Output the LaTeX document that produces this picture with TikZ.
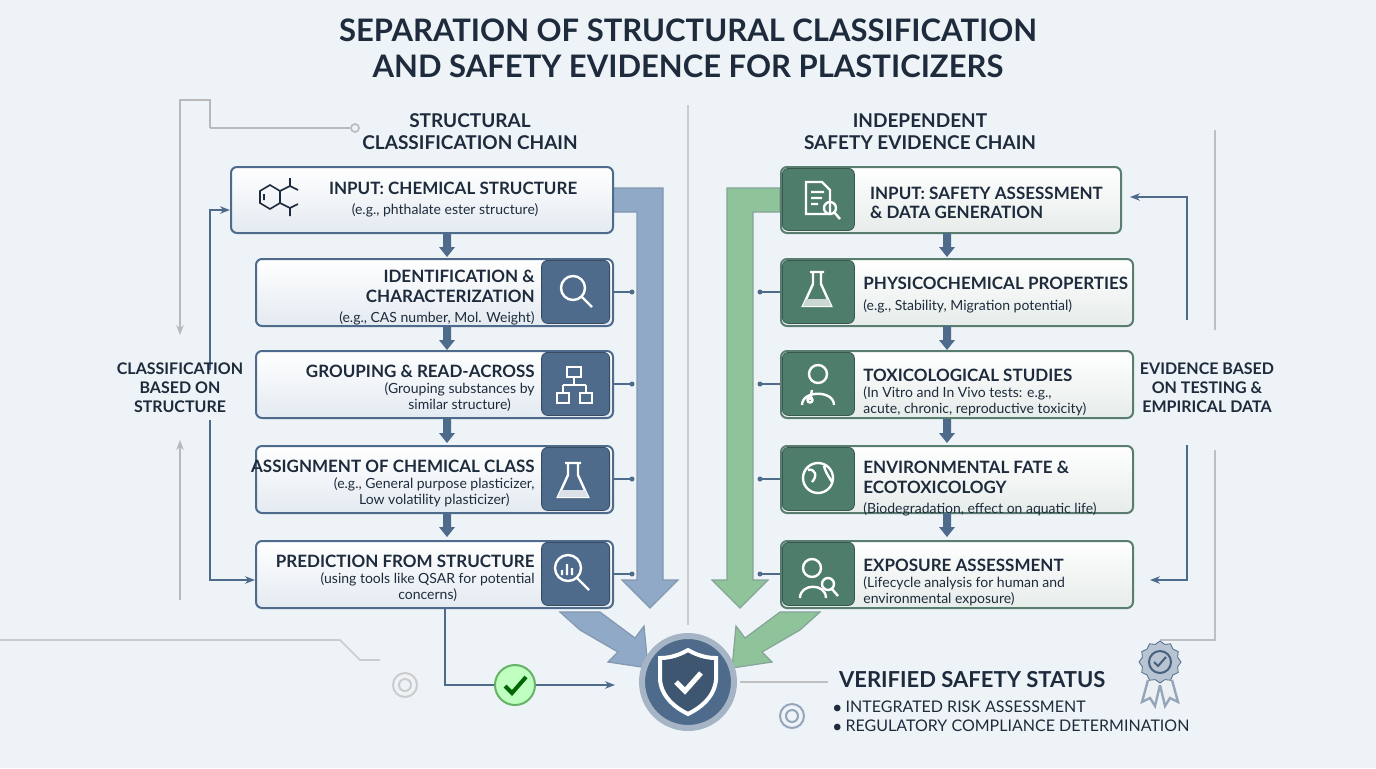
\documentclass[tikz,border=0pt]{standalone}
\usepackage{fontspec}
\setmainfont{Lato}
\usetikzlibrary{arrows.meta,shapes.geometric,calc}
\definecolor{navy}{HTML}{1E2B3C}
\definecolor{steel}{HTML}{4E6B8C}
\definecolor{sage}{HTML}{4F7D6C}
\definecolor{boxbg}{HTML}{E4EAF1}
\definecolor{gboxbg}{HTML}{E6ECEA}
\definecolor{bgc}{HTML}{EEF3F7}
\definecolor{blarrow}{HTML}{8FA9C6}
\definecolor{grarrow}{HTML}{8FC49A}
\begin{document}
\begin{tikzpicture}[x=0.5pt,y=-0.5pt,
 lbox/.style={draw=steel,line width=1pt,rounded corners=3pt,top color=white,bottom color=boxbg},
 rbox/.style={draw=sage!80!gray,line width=1pt,rounded corners=3pt,top color=white,bottom color=gboxbg},
 licon/.style={fill=steel,draw=steel!70!black,rounded corners=3pt},
 ricon/.style={fill=sage,draw=sage!70!black,rounded corners=3pt},
 hd/.style={font=\fontsize{8.5}{9.5}\selectfont\bfseries,text=navy,align=center},
 sub/.style={font=\fontsize{7}{8}\selectfont,text=navy,align=center},
 side/.style={font=\fontsize{8}{9.5}\selectfont\bfseries,text=navy,align=center},
 sarr/.style={-{Stealth[length=5pt]},steel,line width=0.8pt},
 fl/.style={draw=white,line width=1.2pt}]
\useasboundingbox (0,0) rectangle (1376,768);
\fill[bgc] (0,0) rectangle (1376,768);
% title
\node[font=\fontsize{15.5}{18}\selectfont\bfseries,text=navy,align=center] (title) at (688,48) {SEPARATION OF STRUCTURAL CLASSIFICATION\\AND SAFETY EVIDENCE FOR PLASTICIZERS};
\node[font=\fontsize{9.5}{11}\selectfont\bfseries,text=navy,align=center] (lh) at (470,132) {STRUCTURAL\\CLASSIFICATION CHAIN};
\node[font=\fontsize{9.5}{11}\selectfont\bfseries,text=navy,align=center] (rh) at (920,132) {INDEPENDENT\\SAFETY EVIDENCE CHAIN};
\draw[gray!40,line width=0.8pt] (688,105) -- (688,625);
% big arrows
\fill[blarrow,draw=steel!70,line width=0.6pt] (612,188) -- (663,188) -- (663,580) -- (678,580) -- (650,608) -- (622,580) -- (637,580) -- (637,212) -- (612,212) -- cycle;
\fill[grarrow,draw=sage!70,line width=0.6pt] (780,188) -- (727,188) -- (727,580) -- (712,580) -- (740,608) -- (768,580) -- (753,580) -- (753,212) -- (780,212) -- cycle;
\fill[blarrow,draw=steel!70,line width=0.6pt] (560,612) -- (600,612) -- (635,638) -- (644,626) -- (648,668) -- (608,662) -- (618,652) -- (580,630) -- cycle;
\fill[grarrow,draw=sage!70,line width=0.6pt] (820,612) -- (780,612) -- (745,638) -- (736,626) -- (732,668) -- (772,662) -- (762,652) -- (800,630) -- cycle;
% left boxes
\node[lbox,minimum width=191pt,minimum height=33pt,anchor=north west] (l1) at (230,166) {};
\node[hd,anchor=west] (l1t) at (322,188) {INPUT: CHEMICAL STRUCTURE};
\node[sub] (l1s) at (445,210) {(e.g., phthalate ester structure)};
\draw[navy,line width=0.8pt] (270,185) -- (280,191) -- (280,203) -- (270,209) -- (260,203) -- (260,191) -- cycle (264,194)--(264,200) (280,191)--(290,186)--(298,190) (280,203)--(290,208)--(298,204) (290,186)--(290,178) (290,208)--(290,216);
\foreach \i/\y/\h/\s in {2/258/{IDENTIFICATION \&\\CHARACTERIZATION}/{(e.g., CAS number, Mol. Weight)},3/350/{GROUPING \& READ-ACROSS}/{(Grouping substances by\\similar structure)},4/445/{ASSIGNMENT OF CHEMICAL CLASS}/{(e.g., General purpose plasticizer,\\Low volatility plasticizer)},5/540/{PREDICTION FROM STRUCTURE}/{(using tools like QSAR for potential\\concerns)}}{
 \node[lbox,minimum width=178.5pt,minimum height=33.5pt,anchor=north west] (l\i) at (255,\y) {};
 \node[licon,minimum width=34pt,minimum height=31.5pt,anchor=north east] (li\i) at (610,\y+2) {};
 \node[anchor=north east,inner sep=0pt] (lt\i) at (535,\y+10) {\begin{tabular}{@{}r@{}}\fontsize{8.5}{10}\selectfont\bfseries\color{navy}\begin{tabular}{@{}r@{}}\h\end{tabular}\\[-1pt]\fontsize{7}{8}\selectfont\color{navy}\begin{tabular}{@{}c@{}}\s\end{tabular}\end{tabular}};
 \fill[steel] (632,\y+34) circle (2.5);
 \draw[steel,line width=0.6pt] (612,\y+34) -- (632,\y+34);
}
% left icons
\draw[fl] (573,288) circle (12) (582,297) -- (592,307);
\draw[fl] (567,367) rectangle (581,377) (557,393) rectangle (569,403) (580,393) rectangle (592,403) (574,377)--(574,385) (563,385)--(586,385) (563,385)--(563,393) (586,385)--(586,393);
\draw[fl] (568,463) -- (568,475) -- (558,497) -- (588,497) -- (578,475) -- (578,463) (565,463)--(581,463);
\fill[white!80!steel] (561,490) -- (585,490) -- (588,497) -- (558,497) -- cycle;
\draw[fl] (568,568) circle (13) (577,578)--(589,590) (562,575)--(562,570) (567,575)--(567,564) (572,575)--(572,568);
\foreach \y in {233,326,419,513}{\fill[steel] (443,\y) rectangle (451,\y+14) (439,\y+14) -- (455,\y+14) -- (447,\y+24) -- cycle;}
% right boxes
\node[rbox,minimum width=170pt,minimum height=33pt,anchor=north west] (r1) at (780,166) {};
\node[ricon,minimum width=36pt,minimum height=31pt,anchor=north west] (ri1) at (782,168) {};
\node[hd,anchor=north west,align=left] (rt1) at (863,180) {INPUT: SAFETY ASSESSMENT\\\& DATA GENERATION};
\draw[fl] (806,182) -- (822,182) -- (830,190) -- (830,214) -- (806,214) -- cycle (811,192)--(824,192) (811,198)--(822,198) (811,204)--(818,204);
\draw[fl] (830,208) circle (6) (834,212)--(840,219);
\foreach \i/\y/\h/\s in {2/258/{PHYSICOCHEMICAL PROPERTIES}/{(e.g., Stability, Migration potential)},3/350/{TOXICOLOGICAL STUDIES}/{(In Vitro and In Vivo tests: e.g.,\\acute, chronic, reproductive toxicity)},4/445/{ENVIRONMENTAL FATE \&\\ECOTOXICOLOGY}/{(Biodegradation, effect on aquatic life)},5/540/{EXPOSURE ASSESSMENT}/{(Lifecycle analysis for human and\\environmental exposure)}}{
 \node[rbox,minimum width=176pt,minimum height=33.5pt,anchor=north west] (r\i) at (780,\y) {};
 \node[ricon,minimum width=36pt,minimum height=31.5pt,anchor=north west] (ri\i) at (782,\y+2) {};
 \node[anchor=north west,inner sep=0pt] (rt\i) at (863,\y+14) {\begin{tabular}{@{}l@{}}\fontsize{8.5}{10}\selectfont\bfseries\color{navy}\begin{tabular}{@{}l@{}}\h\end{tabular}\\[-1pt]\fontsize{7}{8}\selectfont\color{navy}\begin{tabular}{@{}l@{}}\s\end{tabular}\end{tabular}};
 \fill[steel] (760,\y+34) circle (2.5);
 \draw[steel,line width=0.6pt] (760,\y+34) -- (780,\y+34);
}
\foreach \y in {233,326,419,513}{\fill[steel] (943,\y) rectangle (951,\y+14) (939,\y+14) -- (955,\y+14) -- (947,\y+24) -- cycle;}
% right icons
\draw[fl] (813,272) -- (813,284) -- (803,306) -- (831,306) -- (821,284) -- (821,272) (810,272)--(824,272);
\fill[white!70!sage] (806,299) -- (828,299) -- (831,306) -- (803,306) -- cycle;
\draw[fl] (818,374) circle (9) (802,405) .. controls (802,390) and (834,390) .. (834,405) (812,390) -- (810,400) circle (2.5);
\draw[fl] (818,478) circle (15) (808,470) .. controls (815,468) and (818,476) .. (812,482) (824,466) .. controls (826,474) and (830,478) .. (832,482);
\draw[fl] (812,568) circle (9) (800,598) .. controls (800,583) and (826,583) .. (826,598);
\draw[fl] (828,584) circle (6) (832,589)--(838,596);
% side feedback
\draw[gray!55,line width=0.8pt] (210,128) -- (350,128); \draw[gray!55,line width=0.8pt] (355,128) circle (4);
\draw[gray!55,line width=0.8pt,-{Stealth[length=5pt]}] (180,160) -- (180,335);
\draw[gray!55,line width=0.8pt,-{Stealth[length=5pt]}] (180,600) -- (180,440);
\draw[gray!55,line width=0.8pt] (180,160) -- (180,100) -- (210,100) -- (210,128);
\draw[sarr] (210,370) -- (210,210) -- (230,210);
\draw[sarr] (210,420) -- (210,580) -- (255,580);
\node[side] (ls) at (180,388) {CLASSIFICATION\\BASED ON\\STRUCTURE};
\draw[sarr] (1187,320) -- (1187,197) -- (1130,197);
\draw[sarr] (1187,445) -- (1187,580) -- (1150,580);
\node[side] (rs) at (1207,388) {EVIDENCE BASED\\ON TESTING \&\\EMPIRICAL DATA};
\draw[gray!50,line width=0.8pt] (1215,130) -- (1215,330) (1215,450) -- (1215,640) -- (1160,640);
% bottom
\draw[sarr] (445,608) -- (445,685) -- (615,685);
\node[circle,draw=green!50!black!60,line width=1pt,fill=green!25!white,minimum size=20pt] (chk) at (515,685) {};
\draw[green!40!black,line width=2pt] (505,686) -- (512,693) -- (526,677);
\draw[gray!40,line width=0.8pt] (0,640) -- (340,640) -- (360,660) -- (380,660);
\draw[gray!40,line width=1pt] (405,685) circle (12) (405,685) circle (6);
\node[circle,fill=steel,draw=steel!50,line width=3pt,minimum size=46pt] (shield) at (688,682) {};
\draw[white,line width=2pt,fill=steel!80!black] (688,650) .. controls (700,657) and (710,658) .. (716,658) -- (716,680) .. controls (714,698) and (700,708) .. (688,714) .. controls (676,708) and (662,698) .. (660,680) -- (660,658) .. controls (666,658) and (676,657) .. (688,650) -- cycle;
\draw[white,line width=2.5pt] (676,682) -- (685,691) -- (701,673);
\node[font=\fontsize{11}{13}\selectfont\bfseries,text=navy,anchor=west] (vs) at (832,680) {VERIFIED SAFETY STATUS};
\node[font=\fontsize{8}{9.5}\selectfont,text=navy,anchor=west,align=left] (vl) at (826,716) {$\bullet$ INTEGRATED RISK ASSESSMENT\\$\bullet$ REGULATORY COMPLIANCE DETERMINATION};
\draw[gray!50,line width=0.8pt] (740,682) -- (828,682);
\draw[steel!60,line width=1.2pt,fill=white!90!steel] (1148,680) -- (1142,702) -- (1150,698) -- (1155,706) -- (1160,685) (1172,680) -- (1178,702) -- (1170,698) -- (1165,706) -- (1160,685);
\node[star,star points=12,star point ratio=1.15,fill=steel!40,draw=steel,minimum size=21pt] (badge) at (1160,662) {};
\draw[steel!90!black,line width=1pt] (1160,662) circle (11) (1154,662) -- (1158,666) -- (1166,657);
\draw[steel!60,line width=1pt] (792,716) circle (12) (792,716) circle (6);
\end{tikzpicture}
\end{document}
